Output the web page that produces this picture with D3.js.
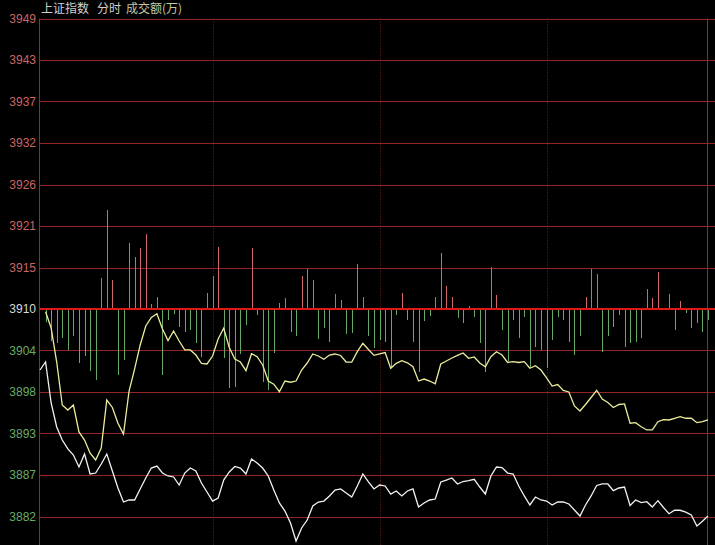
<!DOCTYPE html>
<html>
<head>
<meta charset="utf-8">
<script src="https://cdn.jsdelivr.net/npm/d3@7"></script>
<style>
  html, body { margin: 0; padding: 0; background: #000; }
  svg { display: block; }
  .tick-label { font-family: "Liberation Sans", Arial, sans-serif; font-size: 12px; }
  .title { font-family: "Noto Sans CJK SC", sans-serif; font-size: 12px; }
</style>
</head>
<body>
<div id="chart"></div>
<script>
var svgWidth = 715;
var svgHeight = 545;

// previous close / base line
var baseValue = 3910;

// y tick values and their labels (as shown, truncated)
var tickValues = [3949, 3943.43, 3937.86, 3932.29, 3926.71, 3921.14, 3915.57, 3910,
  3904.43, 3898.86, 3893.29, 3887.71, 3882.14];
var tickLabels = ["3949", "3943", "3937", "3932", "3926", "3921", "3915", "3910",
  "3904", "3898", "3893", "3887", "3882"];

// time slots (2-minute steps), dotted separators at these slots
var slotCount = 120;
var timeDividers = [31, 61, 91];

// index price (white line)
var priceLine = [
  3901.81, 3902.89, 3897.38, 3894.16, 3892.41, 3891.21, 3890.40, 3888.79, 3890.53, 3887.85,
  3887.98, 3889.19, 3890.53, 3888.25, 3885.97, 3884.09, 3884.36, 3884.36, 3885.84, 3887.31,
  3888.65, 3888.92, 3887.98, 3887.58, 3887.45, 3886.37, 3887.98, 3888.65, 3888.25, 3886.64,
  3885.43, 3884.22, 3884.63, 3887.04, 3888.12, 3888.86, 3888.65, 3887.85, 3889.86, 3889.33,
  3888.65, 3887.58, 3885.70, 3883.96, 3882.88, 3881.27, 3878.85, 3880.60, 3881.67, 3883.55,
  3884.09, 3884.22, 3884.90, 3885.70, 3885.84, 3885.30, 3884.76, 3886.24, 3887.85, 3886.78,
  3885.84, 3886.37, 3886.24, 3885.16, 3885.57, 3884.90, 3885.57, 3885.84, 3883.42, 3883.96,
  3884.36, 3884.49, 3886.78, 3887.04, 3887.31, 3886.51, 3886.84, 3886.95, 3887.14, 3886.10,
  3885.16, 3887.58, 3888.79, 3888.72, 3887.98, 3887.85, 3886.24, 3884.90, 3883.69, 3884.76,
  3884.36, 3884.22, 3883.69, 3884.09, 3884.09, 3883.82, 3883.02, 3882.21, 3883.69, 3884.90,
  3886.31, 3886.51, 3886.51, 3885.61, 3885.97, 3886.10, 3883.62, 3884.36, 3884.00, 3884.13,
  3883.42, 3884.27, 3883.35, 3882.52, 3882.98, 3882.98, 3882.72, 3882.35, 3880.87, 3881.51,
  3882.21
];

// leading index (yellow line), starts at slot 1
var leadLine = [
  null, 3909.64, 3907.45, 3902.88, 3897.11, 3896.44, 3897.11, 3893.49, 3892.41, 3890.63,
  3889.73, 3891.34, 3897.78, 3896.78, 3894.66, 3893.22, 3898.99, 3901.95, 3905.17, 3907.72,
  3908.86, 3909.37, 3907.32, 3905.77, 3907.05, 3905.70, 3904.50, 3904.50, 3903.82, 3902.71,
  3902.62, 3903.69, 3905.97, 3907.41, 3904.83, 3903.29, 3902.88, 3901.72, 3904.00, 3903.60,
  3902.48, 3900.33, 3899.90, 3898.90, 3900.33, 3900.17, 3900.33, 3901.81, 3902.75, 3903.96,
  3903.69, 3903.25, 3903.82, 3903.96, 3903.76, 3902.88, 3902.88, 3904.27, 3905.40, 3904.56,
  3903.78, 3903.96, 3904.16, 3902.04, 3902.71, 3903.06, 3902.78, 3902.25, 3900.33, 3900.60,
  3900.33, 3899.97, 3902.62, 3903.02, 3903.42, 3903.78, 3904.09, 3903.38, 3903.56, 3902.75,
  3902.25, 3903.60, 3904.27, 3903.82, 3902.82, 3902.93, 3902.82, 3902.93, 3902.04, 3902.39,
  3901.81, 3900.74, 3899.66, 3899.86, 3899.06, 3898.86, 3896.98, 3896.31, 3897.18, 3898.12,
  3899.09, 3897.92, 3897.45, 3896.78, 3897.18, 3897.25, 3894.66, 3894.74, 3894.20, 3893.76,
  3893.76, 3894.87, 3895.14, 3895.10, 3895.33, 3895.54, 3895.33, 3895.33, 3894.74, 3894.87,
  3895.10
];

// 成交额 bars, sign = up (red) / down (green)
var amount = [
  0, -13, -32, -34, -29, -41, -27, -54, -47, -62,
  -71, 31, 99, 29, -66, -51, 66, 52, 61, 75,
  5, 12, -66, -11, -5, -18, -23, -21, -34, -48,
  16, 33, 62, -49, -79, -78, -45, -16, 61, -6,
  -73, -81, -44, 6, 11, -23, -27, 33, 40, 29,
  -30, -19, -33, 15, 9, -25, -24, 45, 12, -27,
  -39, -31, -33, -58, -6, 16, -11, -33, -63, -12,
  -7, 12, 56, 23, 12, -9, -14, 3, -8, -34,
  -63, 42, 14, -21, -52, -11, -29, -8, -58, -38,
  -41, -59, -31, -8, -11, -33, -46, -27, 12, 40,
  35, -43, -27, -18, -6, -38, -34, -33, -29, 20,
  11, 37, -1, 15, -21, 8, -4, -19, -14, -23,
  -11
];

var margin = { left: 40, right: 7, top: 18.5 };

var svg = d3.select("#chart")
  .append("svg")
  .attr("width", svgWidth)
  .attr("height", svgHeight);

var xScale = d3.scaleLinear()
  .domain([0, slotCount])
  .range([margin.left, svgWidth - margin.right]);

var yScale = d3.scaleLinear()
  .domain([baseValue, tickValues[0]])
  .range([309, margin.top]);

var amountScale = d3.scaleLinear()
  .domain([0, d3.max(amount, function(d) { return Math.abs(d); })])
  .range([0, 99]);

// horizontal grid lines
svg.append("g")
  .selectAll("line")
  .data(tickValues.filter(function(d) { return d !== baseValue; }))
  .enter()
  .append("line")
  .attr("x1", margin.left)
  .attr("x2", svgWidth)
  .attr("y1", function(d) { return Math.round(yScale(d)) + 0.5; })
  .attr("y2", function(d) { return Math.round(yScale(d)) + 0.5; })
  .attr("stroke", "#962626")
  .attr("stroke-width", 1);

// dotted time separators
svg.append("g")
  .selectAll("line")
  .data(timeDividers)
  .enter()
  .append("line")
  .attr("x1", function(d) { return Math.round(xScale(d)) + 0.5; })
  .attr("x2", function(d) { return Math.round(xScale(d)) + 0.5; })
  .attr("y1", margin.top)
  .attr("y2", svgHeight)
  .attr("stroke", "#7a2020")
  .attr("stroke-dasharray", "1,2");

// left and right frame
svg.append("g")
  .selectAll("line")
  .data([0, slotCount])
  .enter()
  .append("line")
  .attr("x1", function(d) { return Math.round(xScale(d)) - 0.5; })
  .attr("x2", function(d) { return Math.round(xScale(d)) - 0.5; })
  .attr("y1", margin.top)
  .attr("y2", svgHeight)
  .attr("stroke", "#9a2828");

// amount bars
svg.append("g")
  .selectAll("line")
  .data(amount.map(function(v, i) { return { i: i, v: v }; }).filter(function(d) { return d.v !== 0; }))
  .enter()
  .append("line")
  .attr("x1", function(d) { return Math.round(xScale(d.i)) + 0.5; })
  .attr("x2", function(d) { return Math.round(xScale(d.i)) + 0.5; })
  .attr("y1", yScale(baseValue))
  .attr("y2", function(d) {
    return d.v > 0 ? yScale(baseValue) - amountScale(d.v) : yScale(baseValue) + amountScale(-d.v);
  })
  .attr("stroke", function(d) { return d.v > 0 ? "#d06868" : "#64aa64"; })
  .attr("stroke-width", 1);

// base line
svg.append("line")
  .attr("x1", margin.left)
  .attr("x2", svgWidth)
  .attr("y1", yScale(baseValue))
  .attr("y2", yScale(baseValue))
  .attr("stroke", "#e01818")
  .attr("stroke-width", 2);

// price lines
var line = d3.line()
  .defined(function(d) { return d !== null; })
  .x(function(d, i) { return xScale(i); })
  .y(function(d) { return yScale(d); });

svg.append("path")
  .datum(leadLine)
  .attr("d", line)
  .attr("fill", "none")
  .attr("stroke", "#ecec9c")
  .attr("stroke-width", 1.3);

svg.append("path")
  .datum(priceLine)
  .attr("d", line)
  .attr("fill", "none")
  .attr("stroke", "#f2f2f2")
  .attr("stroke-width", 1.3);

// y axis labels
svg.append("g")
  .selectAll("text")
  .data(tickValues)
  .enter()
  .append("text")
  .attr("class", "tick-label")
  .attr("x", 36)
  .attr("y", function(d) { return yScale(d); })
  .attr("dy", "0.36em")
  .attr("text-anchor", "end")
  .attr("fill", function(d) {
    if (d > baseValue) return "#cc6464";
    if (d < baseValue) return "#68ac68";
    return "#d8d8d8";
  })
  .text(function(d, i) { return tickLabels[i]; });

// title
var title = svg.append("text")
  .attr("class", "title")
  .attr("y", 13);
title.append("tspan").attr("x", 41).attr("fill", "#cfcfcf").text("上证指数");
title.append("tspan").attr("x", 97).attr("fill", "#cfcfcf").text("分时");
title.append("tspan").attr("x", 126).attr("fill", "#c8c8a0").text("成交额(万)");
</script>
</body>
</html>
